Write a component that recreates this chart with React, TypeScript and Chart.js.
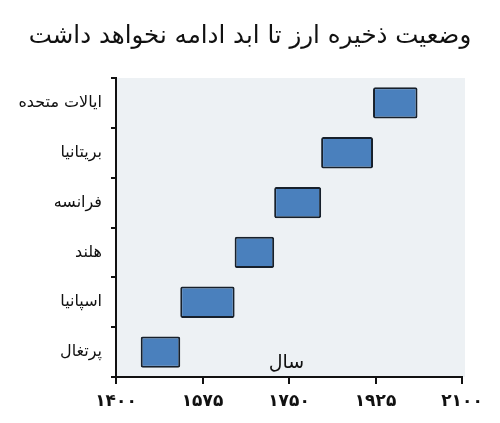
import { useEffect, useRef } from "react";
import { Chart, registerables } from "chart.js";

Chart.register(...registerables);

const countries = ["ایالات متحده", "بریتانیا", "فرانسه", "هلند", "اسپانیا", "پرتغال"];
const startYears = [1920, 1815, 1720, 1640, 1530, 1450];
const endYears = [2010, 1920, 1815, 1720, 1640, 1530];
const xTicks = [1400, 1575, 1750, 1925, 2100];

const titleText = "وضعیت ذخیره ارز تا ابد ادامه نخواهد داشت";
const axisLabel = "سال";

const FONT = "'DejaVu Sans', sans-serif";

function toPersianDigits(v: number | string) {
  const digits = "۰۱۲۳۴۵۶۷۸۹";
  return String(v).replace(/[0-9]/g, (d) => digits[Number(d)]);
}

// light panel behind the plot area, the "سال" label inside it, and the page title
const panelPlugin = {
  id: "panel",
  beforeDraw(chart: Chart) {
    const { ctx, chartArea } = chart;
    ctx.save();
    ctx.fillStyle = "#edf1f4";
    ctx.fillRect(chartArea.left, chartArea.top, chartArea.right - chartArea.left + 3, chartArea.bottom - chartArea.top);
    ctx.restore();
  },
  afterDatasetsDraw(chart: Chart) {
    const { ctx, chartArea, scales } = chart;
    ctx.save();
    ctx.fillStyle = "#111";
    ctx.font = `19px ${FONT}`;
    ctx.textAlign = "center";
    ctx.textBaseline = "middle";
    ctx.fillText(axisLabel, scales.x.getPixelForValue(1745), chartArea.bottom - 14);
    ctx.restore();
  },
  afterDraw(chart: Chart) {
    const { ctx, width } = chart;
    ctx.save();
    ctx.fillStyle = "#111";
    ctx.font = `24.5px ${FONT}`;
    ctx.textAlign = "center";
    ctx.textBaseline = "middle";
    ctx.fillText(titleText, width / 2, 37);
    ctx.restore();
  },
};

export default function App() {
  const chartRef = useRef<HTMLCanvasElement>(null);
  const chartInstance = useRef<Chart | null>(null);

  useEffect(() => {
    if (!chartRef.current) return;
    if (chartInstance.current) chartInstance.current.destroy();

    const ctx = chartRef.current.getContext("2d");
    if (!ctx) return;

    chartInstance.current = new Chart(ctx, {
      type: "bar",
      data: {
        labels: countries,
        datasets: [
          {
            data: countries.map((_, i) => [startYears[i], endYears[i]]),
            backgroundColor: "#4a80bd",
            borderColor: "#17202b",
            borderWidth: 2,
            borderSkipped: false,
            borderRadius: 2,
            barPercentage: 0.63,
            categoryPercentage: 1,
          },
        ],
      },
      options: {
        indexAxis: "y",
        animation: false,
        responsive: true,
        maintainAspectRatio: false,
        layout: { padding: { left: 0, right: 38, top: 78, bottom: 0 } },
        plugins: {
          legend: { display: false },
          tooltip: { enabled: false },
          title: { display: false },
        },
        scales: {
          x: {
            type: "linear",
            min: 1400,
            max: 2100,
            afterBuildTicks: (scale: any) => {
              scale.ticks = xTicks.map((v) => ({ value: v }));
            },
            afterFit: (scale: any) => {
              scale.height = 46;
            },
            border: { color: "#111", width: 2 },
            grid: { drawOnChartArea: false, drawTicks: true, tickLength: 7, color: "#111", lineWidth: 2 },
            ticks: {
              color: "#111",
              padding: 7,
              font: { family: FONT, size: 17, weight: "bold" },
              callback: (v) => toPersianDigits(v),
            },
          },
          y: {
            afterFit: (scale: any) => {
              scale.width = 116;
            },
            border: { color: "#111", width: 2 },
            grid: { offset: true, drawOnChartArea: false, drawTicks: true, tickLength: 5, color: "#111", lineWidth: 2 },
            ticks: {
              color: "#111",
              padding: 9,
              font: { family: FONT, size: 16 },
            },
          },
        },
      },
      plugins: [panelPlugin],
    });

    return () => {
      if (chartInstance.current) {
        chartInstance.current.destroy();
        chartInstance.current = null;
      }
    };
  }, []);

  return (
    <div style={{ position: "fixed", left: 0, top: 0, width: 500, height: 423, background: "#fff" }}>
      <canvas ref={chartRef} />
    </div>
  );
}
